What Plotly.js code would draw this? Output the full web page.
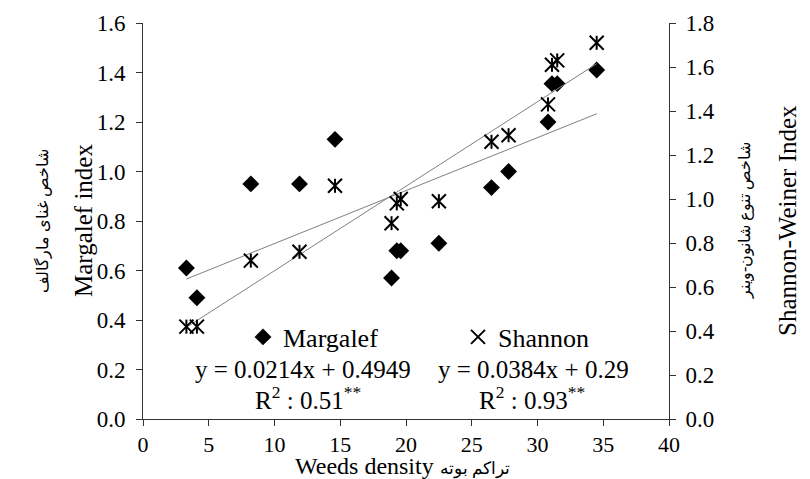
<!DOCTYPE html>
<html>
<head>
<meta charset="utf-8">
<script src="https://cdn.plot.ly/plotly-3.0.1.min.js"></script>
<style>html,body{margin:0;padding:0;background:#fff;}#chart{width:810px;height:479px;}</style>
</head>
<body>
<div id="chart"></div>
<script>
// Data
const density  = [3.3, 4.1, 8.2, 11.9, 14.6, 18.9, 19.3, 19.6, 22.5, 26.5, 27.8, 30.8, 31.1, 31.5, 34.5];
const margalef = [0.61, 0.49, 0.95, 0.95, 1.13, 0.57, 0.68, 0.68, 0.71, 0.935, 1.00, 1.20, 1.355, 1.355, 1.41];
const shannon  = [0.42, 0.42, 0.72, 0.76, 1.06, 0.89, 0.98, 1.00, 0.99, 1.26, 1.29, 1.43, 1.61, 1.63, 1.71];
// Reported regression equations
const margalefFit = {slope: 0.0214, intercept: 0.4949};
const shannonFit  = {slope: 0.0384, intercept: 0.29};
const xTicks = [0, 5, 10, 15, 20, 25, 30, 35, 40];

const xmin = Math.min(...density), xmax = Math.max(...density);
const trendX = [xmin, xmax];
const trendM = trendX.map(x => margalefFit.slope * x + margalefFit.intercept);
const trendS = trendX.map(x => shannonFit.slope * x + shannonFit.intercept);

const serif = 'Times New Roman';

const traces = [
  {x: trendX, y: trendM, mode: 'lines', line: {color: '#808080', width: 1}, showlegend: false, hoverinfo: 'skip', yaxis: 'y'},
  {x: trendX, y: trendS, mode: 'lines', line: {color: '#808080', width: 1}, showlegend: false, hoverinfo: 'skip', yaxis: 'y2'},
  {x: density, y: margalef, name: 'Margalef', mode: 'markers', yaxis: 'y',
   marker: {symbol: 'diamond', size: 13, color: '#000'}},
  {x: density, y: shannon, name: 'Shannon', mode: 'markers', yaxis: 'y2',
   marker: {symbol: 'x-thin-open', size: 14, color: '#000', line: {color: '#000', width: 2}}},
  {x: density, y: shannon, name: 'Shannon', mode: 'markers', yaxis: 'y2', showlegend: false,
   marker: {symbol: 'line-ns-open', size: 10, color: '#000', line: {color: '#000', width: 2}}}
];

function px(x) { return (x - 143) / 526; }
function py(y) { return (419 - y) / 396; }

const ann = (text, x, y, size, angle) => ({
  text: text, xref: 'paper', yref: 'paper', x: px(x), y: py(y),
  xanchor: 'center', yanchor: 'middle', showarrow: false, textangle: angle || 0,
  font: {family: serif, size: size, color: '#000'}, borderpad: 0
});

const axisBase = {
  ticks: 'outside', ticklen: 6, tickcolor: '#333', showline: true, linecolor: '#333', linewidth: 1,
  showgrid: false, zeroline: false, tickfont: {family: serif, size: 23, color: '#000'}
};

const layout = {
  width: 810, height: 479,
  font: {family: serif, color: '#000'},
  margin: {l: 143, r: 141, t: 23, b: 60},
  paper_bgcolor: '#fff', plot_bgcolor: '#fff',
  showlegend: true,
  legend: {orientation: 'h', x: px(243), y: py(337), xanchor: 'left', yanchor: 'middle',
           bgcolor: 'rgba(0,0,0,0)', font: {family: serif, size: 26, color: '#000'},
           entrywidth: 170, entrywidthmode: 'pixels', itemwidth: 30, tracegroupgap: 0},
  xaxis: Object.assign({}, axisBase, {range: [0, 40], tickvals: xTicks, ticktext: xTicks.map(String),
          ticklabelstandoff: 0, tickfont: {family: serif, size: 22, color: '#000'}}),
  yaxis: Object.assign({}, axisBase, {range: [0, 1.6], dtick: 0.2, tick0: 0, tickformat: '.1f',
          ticklabelstandoff: 6}),
  yaxis2: Object.assign({}, axisBase, {range: [0, 1.8], dtick: 0.2, tick0: 0, tickformat: '.1f',
           overlaying: 'y', side: 'right', ticklabelstandoff: 5}),
  annotations: [
    ann('Margalef index', 83, 221, 25, -90),
    ann('شاخص غنای مارگالف', 42, 221, 16, -90),
    ann('Shannon-Weiner Index', 787, 221, 25, -90),
    ann('شاخص تنوع شانون-وینر', 745, 221, 16, -90),
    ann('Weeds density <span style="font-size:17px">تراکم بوته</span>', 402, 466, 24, 0),
    ann('y = 0.0214x + 0.4949', 303, 369, 25),
    ann('R<sup>2</sup> : 0.51<sup>**</sup>', 308, 398, 25),
    ann('y = 0.0384x + 0.29', 533, 369, 25),
    ann('R<sup>2</sup> : 0.93<sup>**</sup>', 532, 398, 25)
  ]
};

Plotly.newPlot('chart', traces, layout, {displayModeBar: false, staticPlot: true});
</script>
</body>
</html>
